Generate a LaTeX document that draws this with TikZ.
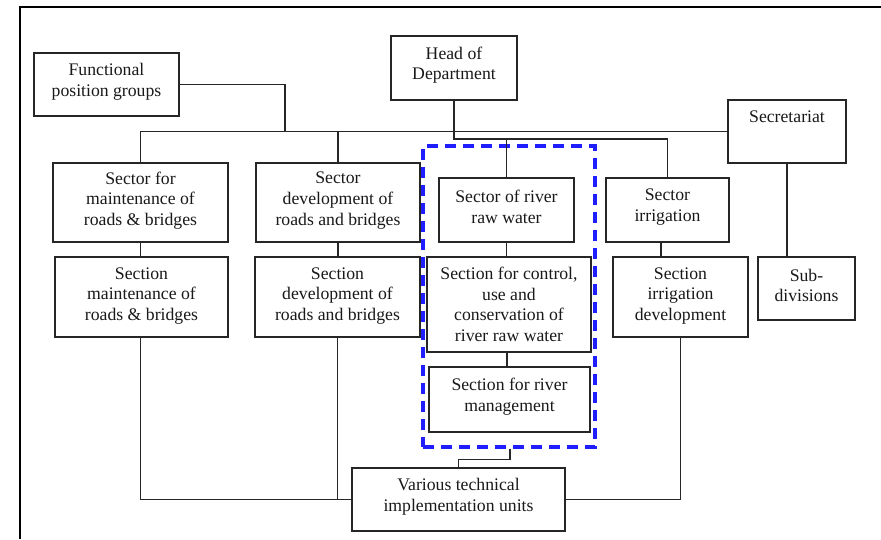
\documentclass[tikz,border=0pt]{standalone}
\usepackage{fontspec}
\setmainfont{Liberation Serif}
\begin{document}
\begin{tikzpicture}[x=1pt,y=-1pt,
  box/.style={draw=black!85,line width=1.7pt,inner sep=0pt,rectangle},
  txt/.style={align=center,inner sep=0pt,font=\fontsize{17.7}{20.6}\selectfont,text=black!90},
  conn/.style={draw=black!85,line width=1.5pt},
  bluebox/.style={draw={rgb,255:red,30;green,30;blue,255},line width=3.2pt,dash pattern=on 11pt off 7pt,inner sep=0pt,rectangle}]
\useasboundingbox (0,0) rectangle (881,539);
% frame
\draw[line width=1.8pt] (20,539) -- (20,7) -- (881,7);
% boxes
\node[box,minimum width=145pt,minimum height=63pt] (fpg) at (106.5,84.5) {};
\node[box,minimum width=126pt,minimum height=64pt] (head) at (454,68) {};
\node[box,minimum width=118pt,minimum height=63pt] (sec) at (787,131.5) {};
\node[box,minimum width=175pt,minimum height=79pt] (smaint) at (140.5,202.5) {};
\node[box,minimum width=164pt,minimum height=79pt] (sdev) at (338,202.5) {};
\node[box,minimum width=135pt,minimum height=64pt] (sriver) at (506.5,210) {};
\node[box,minimum width=123pt,minimum height=64pt] (sirr) at (667.5,210) {};
\node[box,minimum width=173pt,minimum height=80pt] (cmaint) at (141.5,297) {};
\node[box,minimum width=165pt,minimum height=80pt] (cdev) at (337.5,297) {};
\node[box,minimum width=164pt,minimum height=95pt] (cctrl) at (509,304.5) {};
\node[box,minimum width=135pt,minimum height=80pt] (cirr) at (680.5,297) {};
\node[box,minimum width=97pt,minimum height=63pt] (subdiv) at (806.5,288.5) {};
\node[box,minimum width=161pt,minimum height=65pt] (criver) at (509.5,399.5) {};
\node[box,minimum width=213pt,minimum height=63pt] (var) at (458.5,499.5) {};
\node[bluebox,minimum width=172pt,minimum height=301pt] (rw) at (509,296.5) {};
% texts
\node[txt] (fpg-t) at ([yshift=3pt]fpg.center) {Functional\\position groups};
\node[txt] (head-t) at ([yshift=3pt]head.center) {Head of\\Department};
\node[txt] (sec-t) at ([yshift=-18pt]sec.north) {Secretariat};
\node[txt] (smaint-t) at ([yshift=2pt]smaint.center) {Sector for\\maintenance of\\roads \& bridges};
\node[txt] (sdev-t) at ([yshift=2pt]sdev.center) {Sector\\development of\\roads and bridges};
\node[txt] (sriver-t) at ([yshift=3pt]sriver.center) {Sector of river\\raw water};
\node[txt] (sirr-t) at ([yshift=3pt]sirr.center) {Sector\\irrigation};
\node[txt] (cmaint-t) at ([yshift=1pt]cmaint.center) {Section\\maintenance of\\roads \& bridges};
\node[txt] (cdev-t) at ([yshift=1pt]cdev.center) {Section\\development of\\roads and bridges};
\node[txt] (cctrl-t) at ([yshift=0pt]cctrl.center) {Section for control,\\use and\\conservation of\\river raw water};
\node[txt] (cirr-t) at ([yshift=1pt]cirr.center) {Section\\irrigation\\development};
\node[txt] (subdiv-t) at ([yshift=3pt]subdiv.center) {Sub-\\divisions};
\node[txt] (criver-t) at ([yshift=3pt]criver.center) {Section for river\\management};
\node[txt] (var-t) at ([yshift=3pt]var.center) {Various technical\\implementation units};
% connectors
\coordinate (b1) at (285,131.5);
\coordinate (b2) at (454,139);
\draw[conn] (fpg.east) -| (b1);
\draw[conn] (smaint.north) |- (sec.west);
\draw[conn] (sdev.north) -- (sdev.north |- sec.west);
\draw[conn] (head.south) -- (b2) -| (sirr.north);
\draw[conn] (sriver.north) -- (sriver.north |- b2);
\draw[conn] (sec.south) -- (sec.south |- subdiv.north);
\draw[conn] (smaint.south) -- (smaint.south |- cmaint.north);
\draw[conn] (sdev.south) -- (sdev.south |- cdev.north);
\draw[conn] (sriver.south) -- (sriver.south |- cctrl.north);
\draw[conn] ([xshift=-6.5pt]sirr.south) -- ([xshift=-6.5pt]sirr.south |- cirr.north);
\draw[conn] ([xshift=-2pt]cctrl.south) -- ([xshift=-2pt]cctrl.south |- criver.north);
\draw[conn] (smaint.south |- cmaint.south) |- (var.west);
\draw[conn] (cdev.south) -- (cdev.south |- var.west);
\draw[conn] (var.east) -| (cirr.south);
\draw[conn] ([xshift=1pt]rw.south) -- ++(0,11) -| (var.north);
\end{tikzpicture}
\end{document}
